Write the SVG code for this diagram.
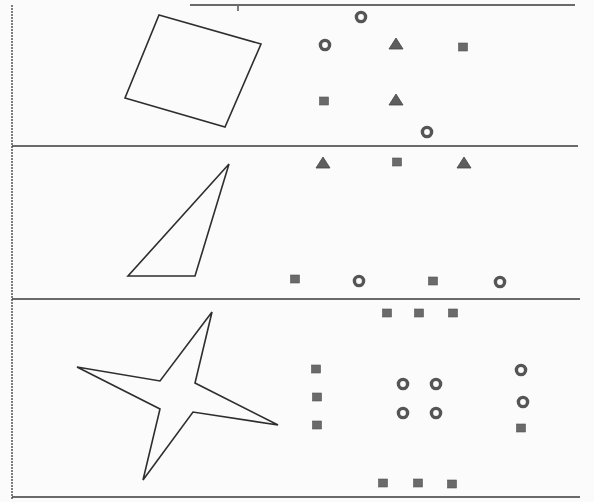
<svg xmlns="http://www.w3.org/2000/svg" width="594" height="502" viewBox="0 0 594 502">
<defs>
<style>
.frame{stroke:#3a3a3a;stroke-width:1.3;fill:none}
.fig{stroke:#2e2e2e;stroke-width:1.6;fill:none;stroke-linejoin:miter}
.ring{fill:none;stroke:#555;stroke-width:3.4}
.tri{fill:#5e5e5e;stroke:#444;stroke-width:0.8}
.sq{fill:#6a6a6a;stroke:#555;stroke-width:0.6}
</style>
<circle id="c" r="4.6" class="ring"/>
<polygon id="t" points="0,-6 7,5 -7,5" class="tri"/>
<rect id="s" x="-4.5" y="-4" width="9" height="8" class="sq"/>
</defs>
<rect width="594" height="502" fill="#fbfbfb"/>
<g id="frame">
<line x1="12" y1="5" x2="12" y2="500" class="frame" stroke-dasharray="2 1"/>
<line x1="190" y1="5" x2="575" y2="5" class="frame"/>
<line x1="238" y1="6" x2="238" y2="11" class="frame" stroke-width="2"/>
<line x1="12" y1="146" x2="578" y2="146" class="frame"/>
<line x1="12" y1="299" x2="580" y2="299" class="frame"/>
<line x1="12" y1="497" x2="580" y2="497" class="frame"/>
</g>
<g id="panel1">
<polygon class="fig" points="159,15 261,44 225,127 125,98"/>
<use href="#c" x="361" y="17"/>
<use href="#c" x="325" y="45"/>
<use href="#t" x="396" y="44"/>
<use href="#s" x="463" y="47"/>
<use href="#s" x="324" y="101"/>
<use href="#t" x="396" y="100"/>
<use href="#c" x="427" y="132"/>
</g>
<g id="panel2">
<polygon class="fig" points="229,164 195,276 128,276"/>
<use href="#t" x="323" y="163"/>
<use href="#s" x="397" y="162"/>
<use href="#t" x="464" y="163"/>
<use href="#s" x="295" y="279"/>
<use href="#c" x="359" y="281"/>
<use href="#s" x="433" y="281"/>
<use href="#c" x="500" y="282"/>
</g>
<g id="panel3">
<polygon class="fig" points="212,312 195,383 278,425 193,412 143,480 160,409 77,367 160,381"/>
<use href="#s" x="387" y="313"/>
<use href="#s" x="419" y="313"/>
<use href="#s" x="453" y="313"/>
<use href="#s" x="316" y="369"/>
<use href="#s" x="317" y="397"/>
<use href="#s" x="317" y="425"/>
<use href="#c" x="403" y="384"/>
<use href="#c" x="436" y="384"/>
<use href="#c" x="403" y="413"/>
<use href="#c" x="436" y="413"/>
<use href="#c" x="521" y="370"/>
<use href="#c" x="523" y="402"/>
<use href="#s" x="521" y="428"/>
<use href="#s" x="383" y="483"/>
<use href="#s" x="418" y="483"/>
<use href="#s" x="452" y="484"/>
</g>
</svg>
